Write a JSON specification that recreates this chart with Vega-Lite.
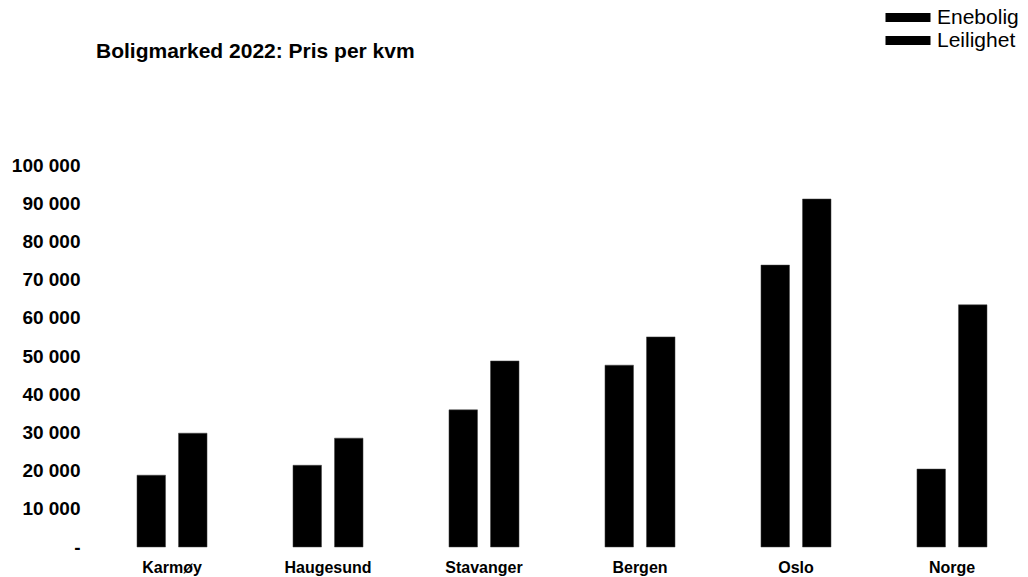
{
  "$schema": "https://vega.github.io/schema/vega-lite/v6.json",
  "autosize": {"type": "none"},
  "padding": {"left": 104, "top": 165, "right": 8, "bottom": 30},
  "width": 916,
  "height": 382,
  "background": "white",
  "title": {
    "text": "Boligmarked 2022: Pris per kvm",
    "anchor": "start",
    "frame": "group",
    "orient": "top",
    "offset": 0,
    "dy": 55,
    "dx": -8,
    "font": "Liberation Sans",
    "fontSize": 21,
    "fontWeight": "bold",
    "color": "black"
  },
  "config": {
    "view": {"stroke": null},
    "font": "Liberation Sans"
  },
  "data": {
    "values": [
      {"sted": "Karmøy", "type": "Enebolig", "pris": 18800},
      {"sted": "Karmøy", "type": "Leilighet", "pris": 29800},
      {"sted": "Haugesund", "type": "Enebolig", "pris": 21400},
      {"sted": "Haugesund", "type": "Leilighet", "pris": 28500},
      {"sted": "Stavanger", "type": "Enebolig", "pris": 35900},
      {"sted": "Stavanger", "type": "Leilighet", "pris": 48700},
      {"sted": "Bergen", "type": "Enebolig", "pris": 47600},
      {"sted": "Bergen", "type": "Leilighet", "pris": 55000},
      {"sted": "Oslo", "type": "Enebolig", "pris": 73800},
      {"sted": "Oslo", "type": "Leilighet", "pris": 91100},
      {"sted": "Norge", "type": "Enebolig", "pris": 20400},
      {"sted": "Norge", "type": "Leilighet", "pris": 63400}
    ]
  },
  "mark": {"type": "bar", "color": "black", "stroke": "#444", "strokeWidth": 0.5},
  "encoding": {
    "x": {
      "field": "sted",
      "type": "nominal",
      "sort": ["Karmøy", "Haugesund", "Stavanger", "Bergen", "Oslo", "Norge"],
      "scale": {"paddingInner": 0.551, "paddingOuter": 0.2115},
      "axis": {
        "title": null,
        "labelAngle": 0,
        "domain": false,
        "ticks": false,
        "labelPadding": 12,
        "labelFont": "Liberation Sans",
        "labelFontSize": 16,
        "labelFontWeight": "bold",
        "labelColor": "black"
      }
    },
    "xOffset": {
      "field": "type",
      "type": "nominal",
      "sort": ["Enebolig", "Leilighet"],
      "scale": {"paddingInner": 0.313, "paddingOuter": 0}
    },
    "y": {
      "field": "pris",
      "type": "quantitative",
      "scale": {"domain": [0, 100000], "nice": false},
      "axis": {
        "title": null,
        "values": [0, 10000, 20000, 30000, 40000, 50000, 60000, 70000, 80000, 90000, 100000],
        "labelExpr": "datum.value == 0 ? '-' : format(datum.value / 1000, 'd') + ' 000'",
        "domain": false,
        "ticks": false,
        "grid": false,
        "labelPadding": 24,
        "labelFont": "Liberation Sans",
        "labelFontSize": 19,
        "labelFontWeight": "bold",
        "labelColor": "black"
      }
    },
    "color": {
      "field": "type",
      "type": "nominal",
      "sort": ["Enebolig", "Leilighet"],
      "scale": {"range": ["black", "black"]},
      "legend": {
        "title": null,
        "orient": "none",
        "legendX": 793.5,
        "legendY": -158,
        "direction": "vertical",
        "symbolType": "M-4.5,-0.9H4.5V0.9H-4.5Z",
        "symbolSize": 100,
        "symbolFillColor": "black",
        "symbolStrokeWidth": 0,
        "rowPadding": 1,
        "labelOffset": 18.5,
        "labelFont": "Liberation Sans",
        "labelFontSize": 21,
        "labelColor": "black"
      }
    }
  }
}
